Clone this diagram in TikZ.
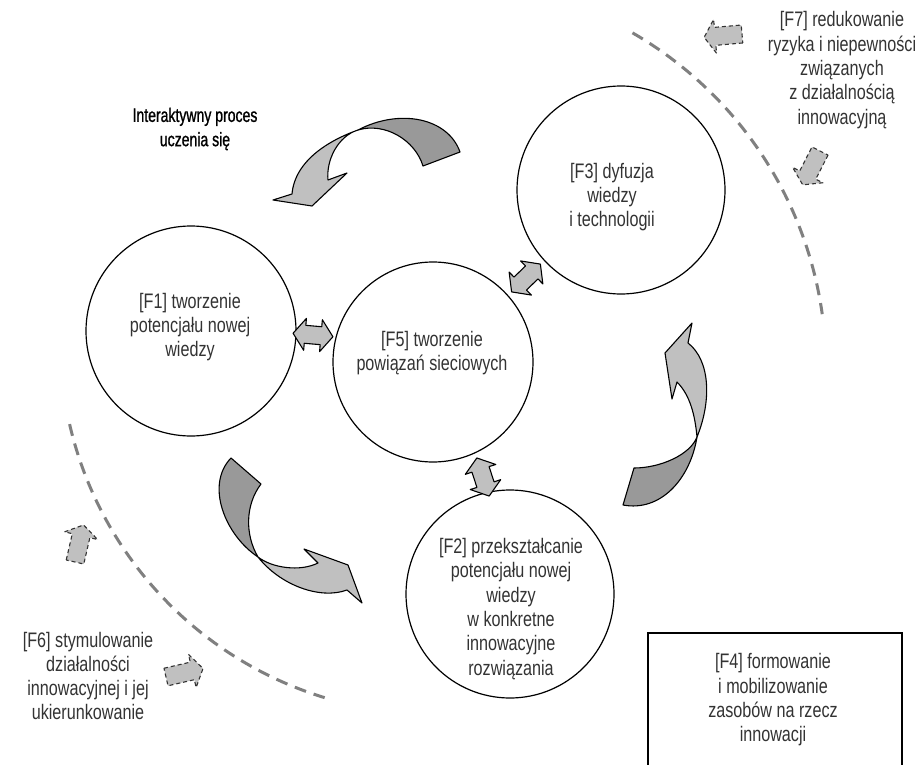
\documentclass[tikz,border=0pt]{standalone}
\usepackage{fontspec}
\setmainfont{Liberation Sans}[FakeStretch=0.77]
\newfontfamily\headfont{Liberation Sans}[FakeStretch=0.72, FakeBold=1]
\definecolor{txtgray}{HTML}{333333}
\definecolor{darkfill}{HTML}{999999}
\definecolor{lightfill}{HTML}{C0C0C0}
\definecolor{arcgray}{HTML}{808080}
\begin{document}
\begin{tikzpicture}[x=1pt,y=-1pt,
  circ/.style={circle, draw=black, line width=1.2pt, fill=white, minimum size=#1, inner sep=0pt},
  lbl/.style={align=center, inner sep=0pt, text=txtgray, font=\fontsize{21}{24.3}\selectfont},
  ribbon/.style={draw=black, line width=1.1pt, line join=round},
  dashbox/.style={draw=black!80, line width=1.1pt, dash pattern=on 4pt off 3pt, fill=lightfill, line join=round},
  arcdash/.style={draw=arcgray, line width=3pt, dash pattern=on 12pt off 8pt},
  dbl/.pic={\draw[ribbon, fill=lightfill] (-20,0) -- (-8,-16) -- (-8,-9) -- (8,-9) -- (8,-16) -- (20,0) -- (8,16) -- (8,9) -- (-8,9) -- (-8,16) -- cycle;},
  blk/.pic={\draw[dashbox] (0,-9) -- (27,-9) -- (27,-17) -- (38,0) -- (27,17) -- (27,9) -- (0,9) -- cycle;}
]
\useasboundingbox[fill=white] (0,0) rectangle (918,765);

% outer dashed arcs
\coordinate (cu) at (439,368);
\coordinate (cl) at (434,340);
\draw[arcdash] ([shift={(-60:387)}]cu) arc[start angle=-60, end angle=-8, radius=387];
\draw[arcdash] ([shift={(167:374)}]cl) arc[start angle=167, end angle=107, radius=374];

% circles
\node[circ=210] (f1) at (191,331) {};
\node[circ=200] (f5) at (433,362) {};
\node[circ=208] (f3) at (621,190) {};
\node[circ=208] (f2) at (510,594) {};

% box of F4, open at the lower edge of the page
\begin{scope}
  \clip (0,0) rectangle (918,765);
  \node[draw=black, line width=1.3pt, minimum width=254, minimum height=160, inner sep=0pt] (f4box) at (775,713) {};
\end{scope}

% curved ribbon arrows (twisted: back side dark, front side light)
\draw[ribbon, fill=darkfill] (423,166) -- (460,152) .. controls (448,118) and (400,108) .. (358,130)
      .. controls (385,122) and (415,140) .. (423,166) -- cycle;
\draw[ribbon, fill=lightfill] (358,130) .. controls (330,140) and (295,160) .. (292,194) -- (273,200) -- (312,206)
      -- (347,173) -- (328,180) .. controls (326,160) and (338,136) .. (358,130) -- cycle;

\draw[ribbon, fill=darkfill] (231,458) -- (261,484) .. controls (245,505) and (245,535) .. (258,557)
      .. controls (225,535) and (205,485) .. (231,458) -- cycle;
\draw[ribbon, fill=lightfill] (258,557) .. controls (280,585) and (320,600) .. (347,590) -- (362,603) -- (348,565)
      -- (304,549) -- (318,563) .. controls (300,572) and (272,568) .. (258,557) -- cycle;

\draw[ribbon, fill=darkfill] (623,505) -- (634,468) .. controls (660,468) and (690,455) .. (697,437)
      .. controls (690,480) and (660,512) .. (623,505) -- cycle;
\draw[ribbon, fill=lightfill] (697,437) .. controls (712,400) and (710,360) .. (688,343) -- (692,323) -- (665,353)
      -- (672,399) -- (677,382) .. controls (690,395) and (695,415) .. (697,437) -- cycle;

% double arrows between the circles
\coordinate (a15) at (313,335);
\coordinate (a53) at (526,278);
\coordinate (a52) at (483,477);
\pic[rotate=-5] at (a15) {dbl};
\pic[rotate=44] at (a53) {dbl};
\pic[rotate=-72] at (a52) {dbl};

% dashed block arrows
\coordinate (b1) at (742,34);
\coordinate (b2) at (820,151);
\coordinate (b3) at (75,562);
\coordinate (b4) at (166,677);
\pic[rotate=185] at (b1) {blk};
\pic[rotate=243] at (b2) {blk};
\pic[rotate=77] at (b3) {blk};
\pic[rotate=13] at (b4) {blk};

% labels
\node[lbl, text=black, font=\headfont\fontsize{19.5}{24.3}\selectfont] (tint) at (195,129) {Interaktywny proces\\uczenia się};
\node[lbl] (t1) at (190,327) {[F1] tworzenie\\potencjału nowej\\wiedzy};
\node[lbl] (t5) at (432,353) {[F5] tworzenie\\powiązań sieciowych};
\node[lbl] (t3) at (612,197) {[F3] dyfuzja\\wiedzy\\i technologii};
\node[lbl] (t2) at (511,609) {[F2] przekształcanie\\potencjału nowej\\wiedzy\\w konkretne\\innowacyjne\\rozwiązania};
\node[lbl] (t4) at (773,700) {[F4] formowanie\\i mobilizowanie\\zasobów na rzecz\\innowacji};
\node[lbl] (t6) at (88,676) {[F6] stymulowanie\\działalności\\innowacyjnej i jej\\ukierunkowanie};
\node[lbl] (t7) at (842,70) {[F7] redukowanie\\ryzyka i niepewności\\związanych\\z działalnością\\innowacyjną};
\end{tikzpicture}
\end{document}
